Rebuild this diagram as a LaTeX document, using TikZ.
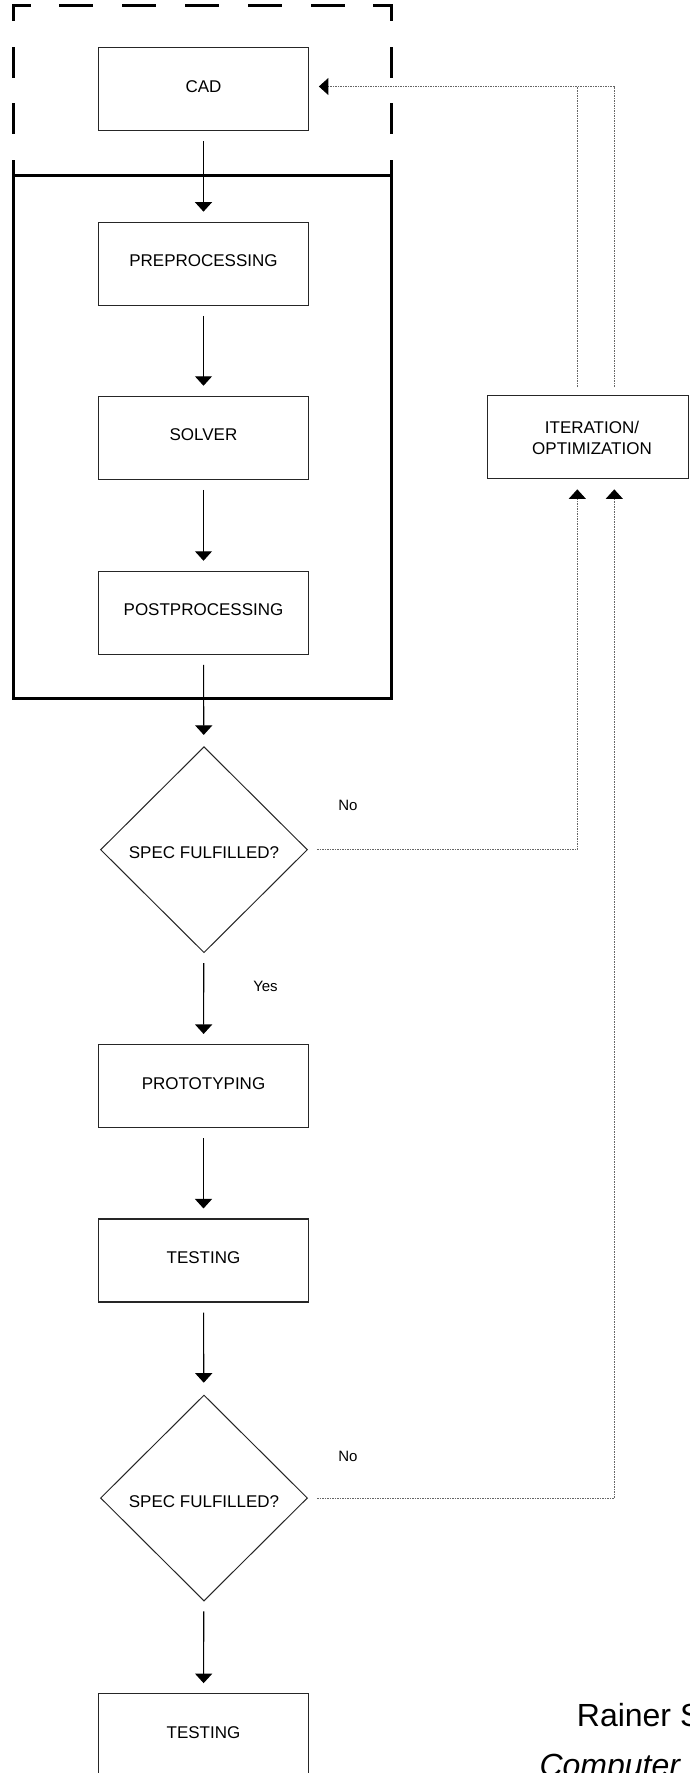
\documentclass[tikz,border=0pt]{standalone}
\usepackage{fontspec}
\setmainfont{Liberation Sans}
\usetikzlibrary{arrows.meta,shapes.geometric,calc}
\begin{document}
\begin{tikzpicture}[x=1pt,y=-1pt,
  box/.style={draw=black!85, line width=1.1pt, minimum width=210.5pt, minimum height=83pt, inner sep=0pt, font=\fontsize{17}{20}\selectfont, text height=12pt, text depth=6pt},
  dec/.style={diamond, draw=black!85, line width=1pt, minimum width=207pt, minimum height=206pt, inner sep=0pt, font=\fontsize{17}{20}\selectfont, text height=18pt, text depth=0pt},
  arr/.style={draw=black, line width=1.1pt, -{Triangle[width=17pt,length=9.5pt]}, shorten <=10pt, shorten >=10pt},
  dotl/.style={draw=black!60, line width=1pt, dash pattern=on 1.5pt off 1pt},
  dtip/.style={-{Triangle[width=17pt,length=9.5pt,color=black]}},
  lbl/.style={font=\fontsize{15}{18}\selectfont, inner sep=0pt, anchor=base},
  dashv/.style={line width=2.6pt, line cap=rect, dash pattern=on 28.3pt off 28.3pt, dash phase=14.15pt},
  dashh/.style={line width=2.6pt, line cap=rect, dash pattern=on 31.4pt off 31.4pt, dash phase=15.7pt}
]
\fill[white] (0,0) rectangle (689,1773);
\useasboundingbox (0,0) rectangle (689,1773);

% dashed CAD frame (three sides)
\draw[dashv] (13.6,5.7) -- (13.6,175.4);
\draw[dashh] (13.6,5.7) -- (391.5,5.7);
\draw[dashv] (391.5,5.7) -- (391.5,175.4);
% solid simulation frame
\draw[line width=2.3pt] (13.6,175.4) rectangle (391.5,698.5);

% nodes
\node[box] (cad) at (203.5,89) {CAD};
\node[box] (pre) at (203.5,263.7) {PREPROCESSING};
\node[box] (sol) at (203.5,437.8) {SOLVER};
\node[box] (post) at (203.5,612.8) {POSTPROCESSING};
\node[dec] (d1) at (204,849.7) {SPEC FULFILLED?};
\node[box] (proto) at (203.5,1086) {PROTOTYPING};
\node[box] (test1) at (203.5,1260.5) {TESTING};
\node[dec] (d2) at (204,1498) {SPEC FULFILLED?};
\node[box] (test2) at (203.5,1735.2) {TESTING};

\node[box, minimum width=201pt] (iter) at (588,437.3) {};
\node[font=\fontsize{17}{20.5}\selectfont, align=center, inner sep=0pt] (itertext) at (592,437.8) {ITERATION/\\OPTIMIZATION};

% labels
\node[lbl] (no1) at (348,810.3) {No};
\node[lbl] (yes) at (265.5,991) {Yes};
\node[lbl] (no2) at (348,1461.3) {No};

% main arrows
\draw[arr] (cad) -- (pre);
\draw[arr] (pre) -- (sol);
\draw[arr] (sol) -- (post);
\draw[arr, shorten >=11.5pt] (post) -- (d1);
\draw[arr] (d1) -- (proto);
\draw[arr] (proto) -- (test1);
\draw[arr, shorten >=12pt] (test1) -- (d2);
\draw[arr] (d2) -- (test2);

% feedback dotted connectors
\coordinate (vL) at (577.3,0);
\coordinate (vR) at (614.3,0);
\coordinate (cadin) at ($(cad.east)+(0,-2.5)$);
\draw[dotl, dtip, shorten <=9.3pt, shorten >=10pt] (d1.east) -| (vL |- iter.south);
\draw[dotl, dtip, shorten <=9.3pt, shorten >=10pt] (d2.east) -| (vR |- iter.south);
\draw[dotl, dtip, shorten <=8.7pt, shorten >=9.6pt] (vR |- iter.north) |- (cadin);
\draw[dotl, shorten <=8.7pt] (vL |- iter.north) -- (vL |- cadin);

% citation text (cut by the page edge, as in the reference)
\node[anchor=base west, inner sep=0pt, font=\fontsize{32}{38}\selectfont] (author) at (576.7,1726) {Rainer S};
\node[anchor=base west, inner sep=0pt, font=\fontsize{32}{38}\selectfont\itshape] (book) at (539.3,1776) {Computer};
\end{tikzpicture}
\end{document}
